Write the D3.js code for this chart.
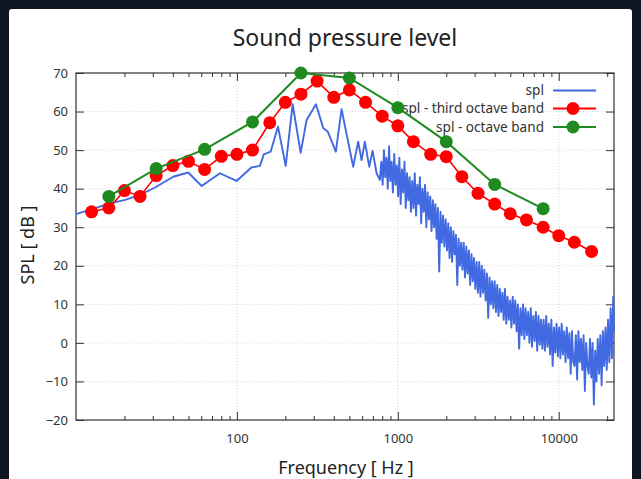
<!DOCTYPE html>
<html>
<head>
<meta charset="utf-8">
<script src="https://cdn.jsdelivr.net/npm/d3@7"></script>
<style>
  body { margin: 0; background: #0f1522; }
  svg { display: block; }
  text { font-family: "Noto Sans", "Open Sans", sans-serif; }
</style>
</head>
<body>
<svg id="canvas" width="641" height="479"></svg>
<script>
// datos
var bandasTercio = [12.5, 16, 20, 25, 31.5, 40, 50, 63, 80, 100, 125, 160, 200, 250, 315, 400,
    500, 630, 800, 1000, 1250, 1600, 2000, 2500, 3150, 4000, 5000, 6300, 8000, 10000, 12500, 16000];
var splTercio = [34, 35, 39.5, 38, 43.4, 46, 47.1, 45, 48.4, 48.9, 50, 57.1, 62.4, 64.5, 67.9, 63.7,
    65.6, 62.4, 58.8, 56.3, 52.2, 48.9, 48.3, 43.1, 38.8, 36, 33.5, 31.9, 30, 27.8, 26.1, 23.7];

var bandasOctava = [16, 31.5, 63, 125, 250, 500, 1000, 2000, 4000, 8000];
var splOctava = [38, 45.2, 50.2, 57.3, 70, 68.7, 61, 52.2, 41.1, 34.8];

// espectro [Hz, dB]
var spl = [
    [10, 33.4], [16.3, 36.2], [20.2, 37.1], [25, 38.4], [31, 40.3], [40.2, 43.1], [49.8, 44.2],
    [60.4, 40.7], [78.4, 44], [99.5, 42], [123, 45.5], [139, 45.9], [147, 48.9], [162, 49.6],
    [180, 56.1], [201, 45.9], [222, 61.9], [249, 49.3], [271, 57.8], [310, 61.9], [344, 55.7],
    [367, 54.8], [412, 49.6], [447, 60.6], [484, 53.5], [528, 45.7], [567, 52.2], [595, 47.4],
    [624, 52.2], [664, 45.7], [697, 49.8], [738, 44], [773, 42.3],
    [790, 47], [805, 41], [820, 50], [835, 43], [850, 48], [866, 40], [882, 51], [898, 42],
    [915, 47], [932, 39], [950, 49], [968, 41], [986, 46],
    [1004, 38], [1022, 48], [1041, 36], [1060, 45], [1080, 39], [1100, 47], [1120, 35],
    [1141, 44], [1162, 37], [1184, 43], [1206, 34], [1228, 42],
    [1251, 35], [1274, 44], [1298, 33], [1322, 41], [1347, 36], [1372, 43], [1397, 31],
    [1423, 40], [1450, 34], [1477, 41], [1504, 30], [1532, 39], [1561, 32], [1590, 38],
    [1620, 29], [1650, 37], [1680, 30], [1711, 36], [1743, 27], [1775, 35], [1808, 18.5],
    [1842, 34], [1876, 26], [1911, 33], [1947, 25], [1983, 32],
    [2020, 24], [2058, 31], [2096, 22], [2135, 30], [2175, 21], [2215, 29], [2256, 23],
    [2298, 28], [2341, 15], [2385, 27], [2429, 20], [2474, 26],
    [2520, 19], [2567, 26], [2615, 17], [2664, 25], [2713, 18], [2764, 24], [2815, 15],
    [2868, 23], [2921, 16], [2975, 22], [3031, 14], [3087, 21],
    [3145, 13], [3204, 21], [3263, 12], [3324, 20], [3386, 13], [3449, 19], [3513, 11],
    [3578, 18], [3645, 6.5], [3713, 17], [3782, 10], [3852, 16], [3924, 9],
    [3997, 16], [4071, 8], [4147, 15], [4224, 7], [4303, 14], [4383, 8], [4464, 13],
    [4548, 6], [4632, 14], [4718, 5], [4806, 12], [4896, 6], [4987, 11],
    [5080, 4], [5175, 12], [5271, 5], [5369, 11], [5469, 3], [5571, 10], [5675, -1.5],
    [5780, 9], [5888, 2], [5997, 10], [6109, 1], [6223, 9],
    [6339, 2], [6457, 8], [6577, 0], [6699, 9], [6824, -1], [6951, 7], [7080, 0.5],
    [7212, 8], [7346, -2], [7483, 7], [7622, -0.5], [7764, 6], [7909, -1.5],
    [8056, 6], [8206, -2], [8359, 7], [8515, -1], [8673, 5], [8835, -3], [8999, 6],
    [9167, -6], [9337, 4], [9511, -2.5], [9688, 5], [9868, -3.5],
    [10052, 4], [10239, -4], [10429, 5], [10623, -3], [10821, 3], [11022, -5], [11227, 4],
    [11436, -4], [11649, 2.5], [11866, -8], [12086, 3], [12311, -5],
    [12540, -6], [12774, 2], [13011, -9.5], [13253, 3], [13500, -5], [13751, 1], [14007, -7],
    [14268, 2], [14533, -12.5], [14803, 0], [15078, -6], [15359, -8], [15645, 1],
    [15936, -9], [16232, 0], [16534, -16], [16842, -2], [17155, -10], [17474, 1], [17799, -8],
    [18130, 2], [18467, -11], [18810, 3], [19160, -6], [19516, 4], [19879, -7],
    [20248, 6], [20624, -5], [21008, 9], [21398, -4], [21796, 12], [22050, 3]
];

var ticksX = [100, 1000, 10000];
var ticksY = [-20, -10, 0, 10, 20, 30, 40, 50, 60, 70];
var leyenda = ["spl", "spl - third octave band", "spl - octave band"];
var colores = ["#4169e1", "#ff0000", "#1f8a1f"];

var margin = {top: 73, left: 76};
var width = 538;
var height = 347;

var canvas = d3.select("#canvas");

// tarjeta blanca
canvas.append("rect")
    .attr("x", 9).attr("y", 9)
    .attr("width", 623).attr("height", 475)
    .attr("rx", 3)
    .attr("fill", "#ffffff");

canvas.append("text")
    .attr("x", 345).attr("y", 46)
    .attr("text-anchor", "middle")
    .attr("font-size", "23px")
    .attr("fill", "#222")
    .text("Sound pressure level");

var svg = canvas.append("g")
    .attr("transform", "translate(" + margin.left + "," + margin.top + ")");

var x = d3.scaleLog()
    .domain([10, 22050])
    .range([0, width]);

var y = d3.scaleLinear()
    .domain([-20, 70])
    .range([height, 0]);

// rejilla punteada
svg.selectAll(".gridY")
    .data(ticksY.slice(1, -1))
    .enter().append("line")
    .attr("class", "gridY")
    .attr("x1", 0).attr("x2", width)
    .attr("y1", function(d) { return y(d); })
    .attr("y2", function(d) { return y(d); })
    .attr("stroke", "#d6d6d6")
    .attr("stroke-dasharray", "1,2");

svg.selectAll(".gridX")
    .data(ticksX)
    .enter().append("line")
    .attr("class", "gridX")
    .attr("y1", 0).attr("y2", height)
    .attr("x1", function(d) { return x(d); })
    .attr("x2", function(d) { return x(d); })
    .attr("stroke", "#d6d6d6")
    .attr("stroke-dasharray", "1,2");

var menores = x.ticks().filter(function(d) { return ticksX.indexOf(d) < 0 && d > 10; });

function ejes(g) {
    g.selectAll(".domain").remove();
    g.selectAll("line").attr("stroke", "#333");
    g.selectAll("text").attr("fill", "#333").attr("font-size", "13px");
}

// ejes abajo y arriba
svg.append("g")
    .attr("transform", "translate(0," + height + ")")
    .call(d3.axisBottom(x).tickValues(ticksX).tickFormat(d3.format("d")).tickSizeInner(-8).tickPadding(14))
    .call(ejes);
svg.append("g")
    .attr("transform", "translate(0," + height + ")")
    .call(d3.axisBottom(x).tickValues(menores).tickFormat("").tickSizeInner(-4))
    .call(ejes);
svg.append("g")
    .call(d3.axisTop(x).tickValues(ticksX).tickFormat("").tickSizeInner(-8))
    .call(ejes);
svg.append("g")
    .call(d3.axisTop(x).tickValues(menores).tickFormat("").tickSizeInner(-4))
    .call(ejes);

svg.append("g")
    .call(d3.axisLeft(y).tickValues(ticksY).tickSizeInner(-8).tickPadding(8))
    .call(ejes);
svg.append("g")
    .attr("transform", "translate(" + width + ",0)")
    .call(d3.axisRight(y).tickValues(ticksY).tickFormat("").tickSizeInner(-8))
    .call(ejes);

svg.append("rect")
    .attr("width", width).attr("height", height)
    .attr("fill", "none")
    .attr("stroke", "#333")
    .attr("stroke-width", 1.2);

// titulos de ejes
canvas.append("text")
    .attr("transform", "translate(34,245) rotate(-90)")
    .attr("text-anchor", "middle")
    .attr("font-size", "18px")
    .attr("fill", "#222")
    .text("SPL [ dB ]");

canvas.append("text")
    .attr("x", 346).attr("y", 474)
    .attr("text-anchor", "middle")
    .attr("font-size", "18px")
    .attr("fill", "#222")
    .text("Frequency [ Hz ]");

// espectro
var linea = d3.line()
    .x(function(d) { return x(d[0]); })
    .y(function(d) { return y(d[1]); });

svg.append("path")
    .datum(spl)
    .attr("d", linea)
    .attr("fill", "none")
    .attr("stroke", colores[0])
    .attr("stroke-width", 1.9)
    .attr("stroke-linejoin", "round");

// leyenda
var filasY = [17.5, 35.5, 54];
var leg = svg.selectAll(".leg")
    .data(leyenda)
    .enter().append("g")
    .attr("class", "leg")
    .attr("transform", function(d, i) { return "translate(0," + filasY[i] + ")"; });

leg.append("text")
    .attr("x", 468)
    .attr("y", 4.5)
    .attr("text-anchor", "end")
    .attr("font-size", "13.6px")
    .attr("fill", "#333")
    .text(function(d) { return d; });

leg.append("line")
    .attr("x1", 477).attr("x2", 520)
    .attr("stroke", function(d, i) { return colores[i]; })
    .attr("stroke-width", 2);

leg.filter(function(d, i) { return i > 0; })
    .append("circle")
    .attr("cx", 497)
    .attr("r", 6.5)
    .attr("fill", function(d, i) { return colores[i + 1]; });

// bandas de tercio de octava
var datosTercio = bandasTercio.map(function(f, i) { return [f, splTercio[i]]; });
svg.append("path")
    .datum(datosTercio)
    .attr("d", linea)
    .attr("fill", "none")
    .attr("stroke", colores[1])
    .attr("stroke-width", 1.6);
svg.selectAll(".tercio")
    .data(datosTercio)
    .enter().append("circle")
    .attr("class", "tercio")
    .attr("cx", function(d) { return x(d[0]); })
    .attr("cy", function(d) { return y(d[1]); })
    .attr("r", 6.5)
    .attr("fill", colores[1]);

// bandas de octava
var datosOctava = bandasOctava.map(function(f, i) { return [f, splOctava[i]]; });
svg.append("path")
    .datum(datosOctava)
    .attr("d", linea)
    .attr("fill", "none")
    .attr("stroke", colores[2])
    .attr("stroke-width", 2);
svg.selectAll(".octava")
    .data(datosOctava)
    .enter().append("circle")
    .attr("class", "octava")
    .attr("cx", function(d) { return x(d[0]); })
    .attr("cy", function(d) { return y(d[1]); })
    .attr("r", 6.5)
    .attr("fill", colores[2]);
</script>
</body>
</html>
